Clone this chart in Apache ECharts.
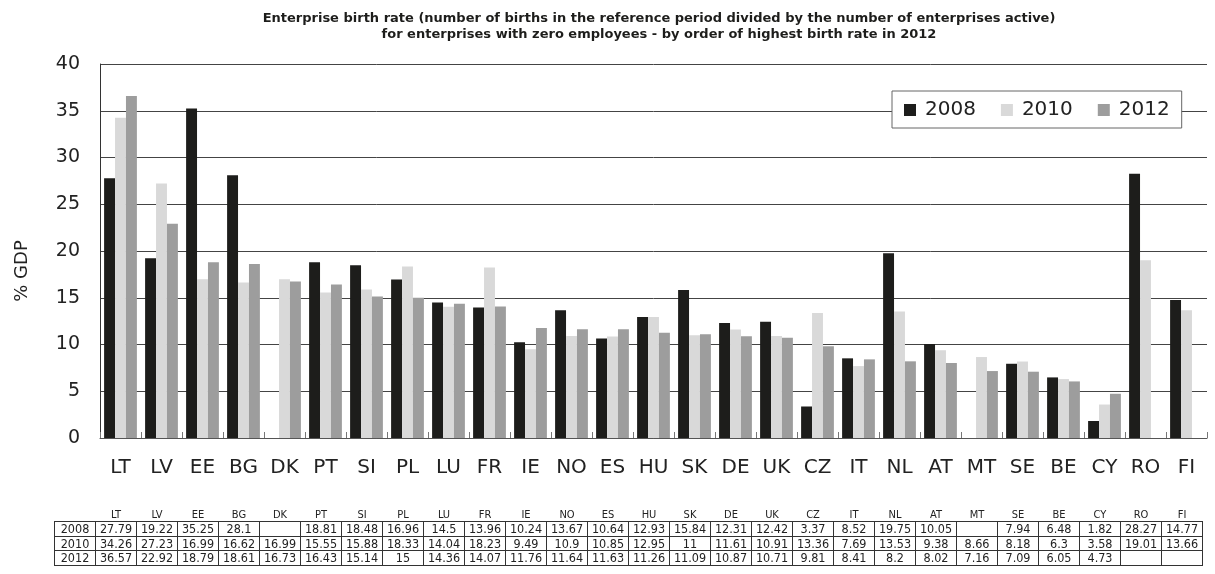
<!DOCTYPE html>
<html>
<head>
<meta charset="utf-8">
<script src="https://cdn.jsdelivr.net/npm/echarts@6/dist/echarts.min.js"></script>
<style>
  body { margin: 0; background: #fff; }
  #diogram { width: 1215px; height: 574px; }
  #table {
    position: absolute; left: 54px; top: 509px;
    border-collapse: collapse; table-layout: fixed;
    font-family: "DejaVu Sans Condensed", sans-serif; font-size: 12.5px; color: #222;
  }
  #table td { width: 40px; height: 13.5px; padding: 0; text-align: center; line-height: 13px;
    border: 1px solid #333; white-space: nowrap; overflow: hidden; }
  #table tr.head td { border: none; height: 12px; font-size: 11px; line-height: 12px; }
</style>
</head>
<body>
<div id="diogram"></div>
<table id="table"></table>
<script>
let countries = ['LT', 'LV', 'EE', 'BG', 'DK', 'PT', 'SI', 'PL', 'LU', 'FR', 'IE', 'NO', 'ES', 'HU',
    'SK', 'DE', 'UK', 'CZ', 'IT', 'NL', 'AT', 'MT', 'SE', 'BE', 'CY', 'RO', 'FI'];

let years = ['2008', '2010', '2012'];

let rate2008 = [27.79, 19.22, 35.25, 28.1, null, 18.81, 18.48, 16.96, 14.5, 13.96, 10.24, 13.67, 10.64, 12.93,
    15.84, 12.31, 12.42, 3.37, 8.52, 19.75, 10.05, null, 7.94, 6.48, 1.82, 28.27, 14.77];
let rate2010 = [34.26, 27.23, 16.99, 16.62, 16.99, 15.55, 15.88, 18.33, 14.04, 18.23, 9.49, 10.9, 10.85, 12.95,
    11, 11.61, 10.91, 13.36, 7.69, 13.53, 9.38, 8.66, 8.18, 6.3, 3.58, 19.01, 13.66];
let rate2012 = [36.57, 22.92, 18.79, 18.61, 16.73, 16.43, 15.14, 15, 14.36, 14.07, 11.76, 11.64, 11.63, 11.26,
    11.09, 10.87, 10.71, 9.81, 8.41, 8.2, 8.02, 7.16, 7.09, 6.05, 4.73, null, null];

let colors = ['#1d1d1b', '#d9d9d9', '#9d9d9d'];
let allRates = [rate2008, rate2010, rate2012];

let font = 'DejaVu Sans';

let myDiogram = echarts.init(document.getElementById('diogram'));

let option = {
    animation: false,
    title: {
        text: 'Enterprise birth rate (number of births in the reference period divided by the number of enterprises active)\nfor enterprises with zero employees - by order of highest birth rate in 2012',
        left: 654,
        top: 6,
        textAlign: 'center',
        textStyle: {
            fontFamily: font,
            fontWeight: 'bold',
            fontSize: 13,
            lineHeight: 16,
            color: '#1d1d1b'
        }
    },
    legend: {
        left: 892,
        top: 91,
        padding: [9, 12, 8, 12],
        itemWidth: 12,
        itemHeight: 12,
        itemGap: 25,
        backgroundColor: '#fff',
        borderColor: '#666',
        borderWidth: 1,
        icon: 'rect',
        textStyle: { fontFamily: font, fontSize: 20, color: '#222', padding: [0, 0, 0, 4] },
        data: years
    },
    grid: {
        left: 100,
        right: 8,
        top: 64,
        bottom: 136
    },
    xAxis: {
        type: 'category',
        data: countries,
        axisLine: { lineStyle: { color: '#555' } },
        axisTick: { show: true, inside: true, length: 6, lineStyle: { color: '#777' } },
        axisLabel: { fontFamily: font, fontSize: 20, color: '#222', margin: 20, interval: 0 }
    },
    yAxis: {
        type: 'value',
        min: 0,
        max: 40,
        interval: 5,
        axisLine: { show: true, lineStyle: { color: '#333' } },
        axisTick: { show: false },
        axisLabel: { fontFamily: font, fontSize: 19, color: '#222', margin: 20 },
        splitLine: { lineStyle: { color: '#444', width: 1 } }
    },
    graphic: [{
        type: 'text',
        x: 22,
        y: 271,
        rotation: Math.PI / 2,
        style: {
            text: '% GDP',
            fontFamily: font,
            fontSize: 18,
            fill: '#222',
            textAlign: 'center',
            textVerticalAlign: 'middle'
        }
    }],
    series: years.map(function (y, i) {
        return {
            name: y,
            type: 'bar',
            color: colors[i],
            barGap: 0,
            barCategoryGap: '20%',
            data: allRates[i]
        };
    })
};

myDiogram.setOption(option);

// data table under the chart
let table = document.getElementById('table');
let html = '<tr class="head"><td></td>' + countries.map(function (c) { return '<td>' + c + '</td>'; }).join('') + '</tr>';
years.forEach(function (y, i) {
    html += '<tr><td>' + y + '</td>' + allRates[i].map(function (v) {
        return '<td>' + (v === null ? '' : v) + '</td>';
    }).join('') + '</tr>';
});
table.innerHTML = html;
</script>
</body>
</html>
